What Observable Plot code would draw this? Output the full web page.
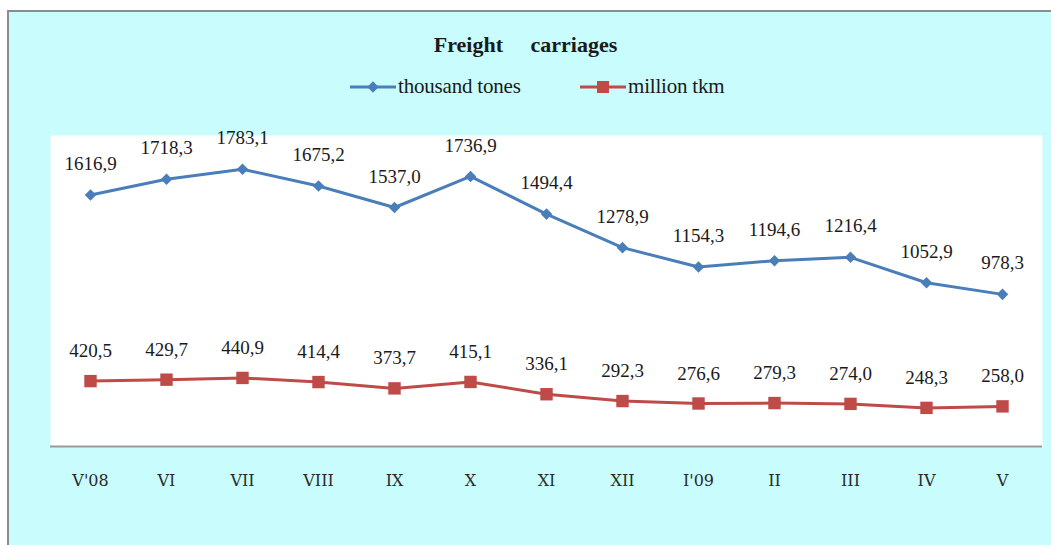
<!DOCTYPE html>
<html>
<head>
<meta charset="utf-8">
<script src="https://cdn.jsdelivr.net/npm/d3@7"></script>
<script src="https://cdn.jsdelivr.net/npm/@observablehq/plot@0.6"></script>
<style>
  html, body { margin: 0; padding: 0; background: #ffffff; width: 1051px; height: 545px; overflow: hidden; }
  #bg { position: absolute; left: 7px; top: 10px; width: 1060px; height: 560px; background: #c9fcfc; border-left: 2px solid #8c8c8c; border-top: 2px solid #8c8c8c; }
  #title { position: absolute; top: 32px; left: 0; width: 1051px; text-align: center; font: bold 22px "Liberation Serif", "Times New Roman", serif; color: #1a1a1a; word-spacing: 22px; }
  .leg { position: absolute; top: 74px; font: 21px "Liberation Serif", "Times New Roman", serif; color: #1a1a1a; letter-spacing: -0.2px; white-space: nowrap; }
  .leg svg { position: absolute; top: 1px; }
  #chart { position: absolute; left: 0; top: 110px; }
</style>
</head>
<body>
<div id="bg"></div>
<div id="title">Freight carriages</div>
<div class="leg" id="leg1" style="left:350px"></div>
<div class="leg" id="leg2" style="left:580px"></div>
<div id="chart"></div>
<script>
const months = ["V'08", "VI", "VII", "VIII", "IX", "X", "XI", "XII", "I'09", "II", "III", "IV", "V"];
const thousandTones = [1616.9, 1718.3, 1783.1, 1675.2, 1537.0, 1736.9, 1494.4, 1278.9, 1154.3, 1194.6, 1216.4, 1052.9, 978.3];
const millionTkm = [420.5, 429.7, 440.9, 414.4, 373.7, 415.1, 336.1, 292.3, 276.6, 279.3, 274.0, 248.3, 258.0];
const seriesNames = ["thousand tones", "million tkm"];
const blue = "#4a7ebb";
const red = "#be4b48";

const fmt = v => v.toFixed(1).replace(".", ",");
const tonesData = months.map((m, i) => ({month: m, value: thousandTones[i]}));
const tkmData = months.map((m, i) => ({month: m, value: millionTkm[i]}));

// legend
function legendItem(el, name, color, symbol) {
  el.innerHTML = `<svg width="46" height="24" style="left:0">
    <line x1="0" x2="46" y1="12" y2="12" stroke="${color}" stroke-width="3"/>
    ${symbol === "diamond"
      ? `<rect x="-4" y="-4" width="8" height="8" fill="${color}" transform="translate(23,12) rotate(45)"/>`
      : `<rect x="17" y="6" width="12" height="12" fill="${color}"/>`}
  </svg><span style="margin-left:48px">${name}</span>`;
}
legendItem(document.getElementById("leg1"), seriesNames[0], blue, "diamond");
legendItem(document.getElementById("leg2"), seriesNames[1], red, "square");

const labelFont = "'Liberation Serif', 'Times New Roman', serif";

const chart = Plot.plot({
  width: 1051,
  height: 435,
  marginLeft: 50,
  marginRight: 9,
  marginTop: 25,
  marginBottom: 99,
  style: { background: "transparent", fontFamily: labelFont },
  x: { type: "point", domain: months, padding: 0.5, label: null },
  y: { domain: [0, 2000], axis: null },
  marks: [
    Plot.frame({ fill: "white", stroke: null }),
    Plot.ruleY([0], { stroke: "#9a9a9a", strokeWidth: 2 }),
    Plot.line(tonesData, { x: "month", y: "value", stroke: blue, strokeWidth: 3 }),
    Plot.line(tkmData, { x: "month", y: "value", stroke: red, strokeWidth: 3 }),
    Plot.dot(tonesData, { x: "month", y: "value", symbol: "square", r: 4.6, rotate: 45, fill: blue, stroke: null }),
    Plot.dot(tkmData, { x: "month", y: "value", symbol: "square", r: 7, fill: red, stroke: null }),
    Plot.text(tonesData, { x: "month", y: "value", text: d => fmt(d.value), dy: -31, fontSize: 19, fill: "#1a1a1a" }),
    Plot.text(tkmData, { x: "month", y: "value", text: d => fmt(d.value), dy: -30, fontSize: 19, fill: "#1a1a1a" }),
    Plot.axisX({ tickSize: 0, tickPadding: 28, fontSize: 16, fill: "#2a2a2a", fontFamily: "'DejaVu Serif', serif" })
  ]
});
document.getElementById("chart").appendChild(chart);
</script>
</body>
</html>
